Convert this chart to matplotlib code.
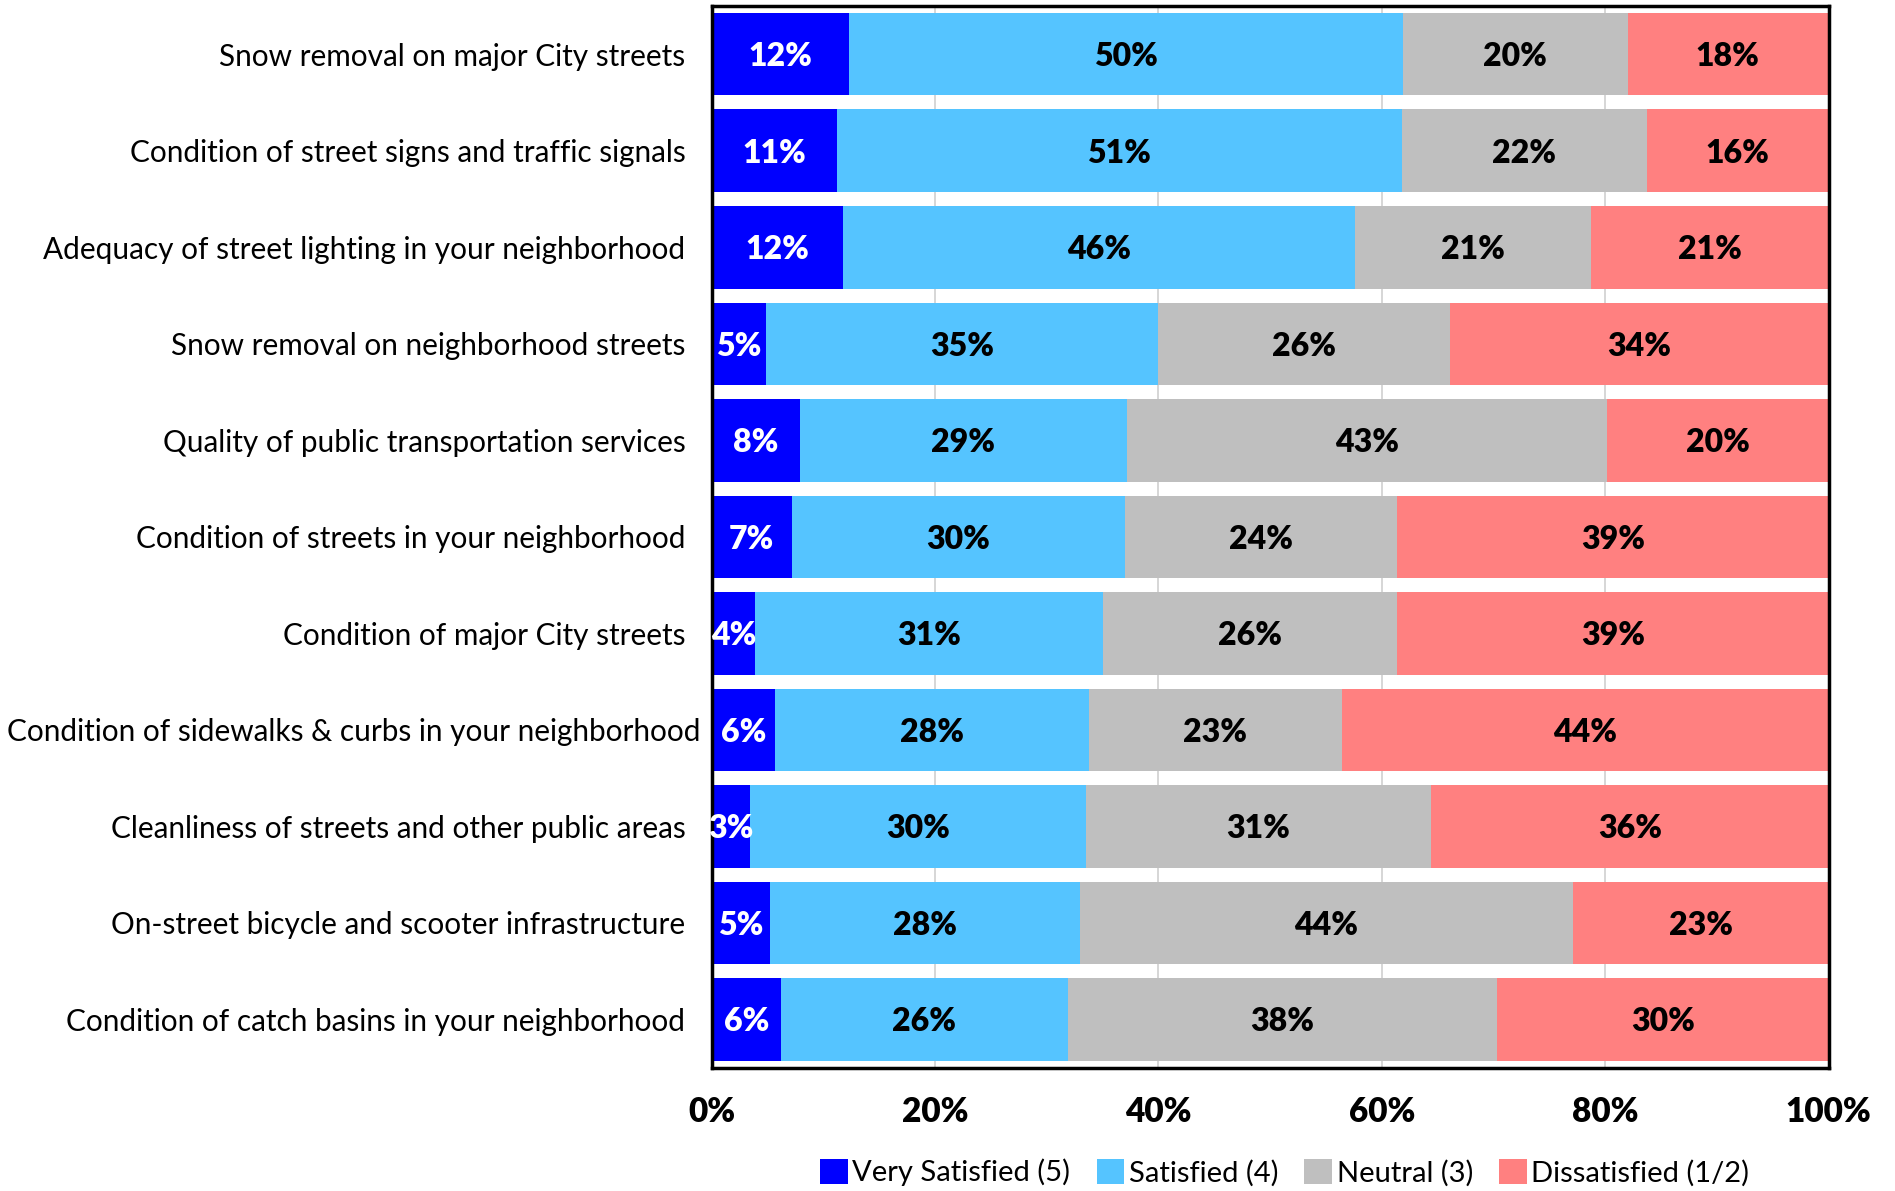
import matplotlib
matplotlib.use("Agg")
import matplotlib.pyplot as plt
from matplotlib.patches import Patch

plt.rcParams['font.family'] = ['Lato', 'DejaVu Sans']

categories = [
    "Snow removal on major City streets",
    "Condition of street signs and traffic signals",
    "Adequacy of street lighting in your neighborhood",
    "Snow removal on neighborhood streets",
    "Quality of public transportation services",
    "Condition of streets in your neighborhood",
    "Condition of major City streets",
    "Condition of sidewalks & curbs in your neighborhood",
    "Cleanliness of streets and other public areas",
    "On-street bicycle and scooter infrastructure",
    "Condition of catch basins in your neighborhood",
]
very_satisfied = [12.3, 11.2, 11.8, 4.9, 7.9, 7.2, 3.9, 5.7, 3.4, 5.2, 6.2]
satisfied = [49.6, 50.6, 45.8, 35.1, 29.3, 29.8, 31.1, 28.1, 30.1, 27.8, 25.7]
neutral = [20.1, 21.9, 21.1, 26.1, 43.0, 24.4, 26.4, 22.6, 30.9, 44.1, 38.4]
dissatisfied = [17.9, 16.3, 21.3, 33.9, 19.8, 38.6, 38.6, 43.6, 35.6, 22.9, 29.7]
series_names = ["Very Satisfied (5)", "Satisfied (4)", "Neutral (3)", "Dissatisfied (1/2)"]
x_ticks = [0, 20, 40, 60, 80, 100]
x_tick_labels = ["0%", "20%", "40%", "60%", "80%", "100%"]

colors = ["#0000FF", "#55C4FF", "#BFBFBF", "#FF8080"]
text_colors = ["white", "black", "black", "black"]

fig = plt.figure(figsize=(18.95, 11.91), dpi=100)
ax = fig.add_axes([0.3755, 0.1035, 0.5895, 0.8915])

series = [very_satisfied, satisfied, neutral, dissatisfied]
n = len(categories)
ypos = list(range(n))
lefts = [0.0] * n
for vals, col, tcol in zip(series, colors, text_colors):
    ax.barh(ypos, vals, left=lefts, height=0.855, color=col, edgecolor='none', zorder=2)
    for i, v in enumerate(vals):
        ax.text(lefts[i] + v / 2, i, f"{round(v):d}%", ha='center', va='center_baseline',
                fontsize=23, fontweight='heavy', color=tcol, zorder=3)
    lefts = [l + v for l, v in zip(lefts, vals)]

ax.set_xlim(0, 100)
ax.set_ylim(n - 0.5, -0.5)
ax.set_xticks(x_ticks)
ax.set_xticklabels(x_tick_labels, fontsize=24, fontweight='heavy')
ax.tick_params(axis='x', length=0, pad=20)
ax.set_yticks([])
ax.xaxis.grid(True, color='#D0D0D0', linewidth=1.2, zorder=0)
ax.set_axisbelow(True)
for s in ax.spines.values():
    s.set_linewidth(2.5)
    s.set_color('black')

# category labels (right-aligned left of the axes)
for i, c in enumerate(categories):
    xoff = -0.0235 if len(c) < 50 else -0.0095
    ax.text(xoff, i, c, transform=ax.get_yaxis_transform(), ha='right', va='center_baseline',
            fontsize=21.4, color='black')

handles = [Patch(facecolor=c, edgecolor='none') for c in colors]
fig.legend(handles, series_names, loc='center', bbox_to_anchor=(0.678, 0.0155),
           ncol=4, frameon=False, fontsize=21, handlelength=0.95, handleheight=0.95,
           handletextpad=0.15, columnspacing=0.9)

fig.savefig("out.png", dpi=100)
